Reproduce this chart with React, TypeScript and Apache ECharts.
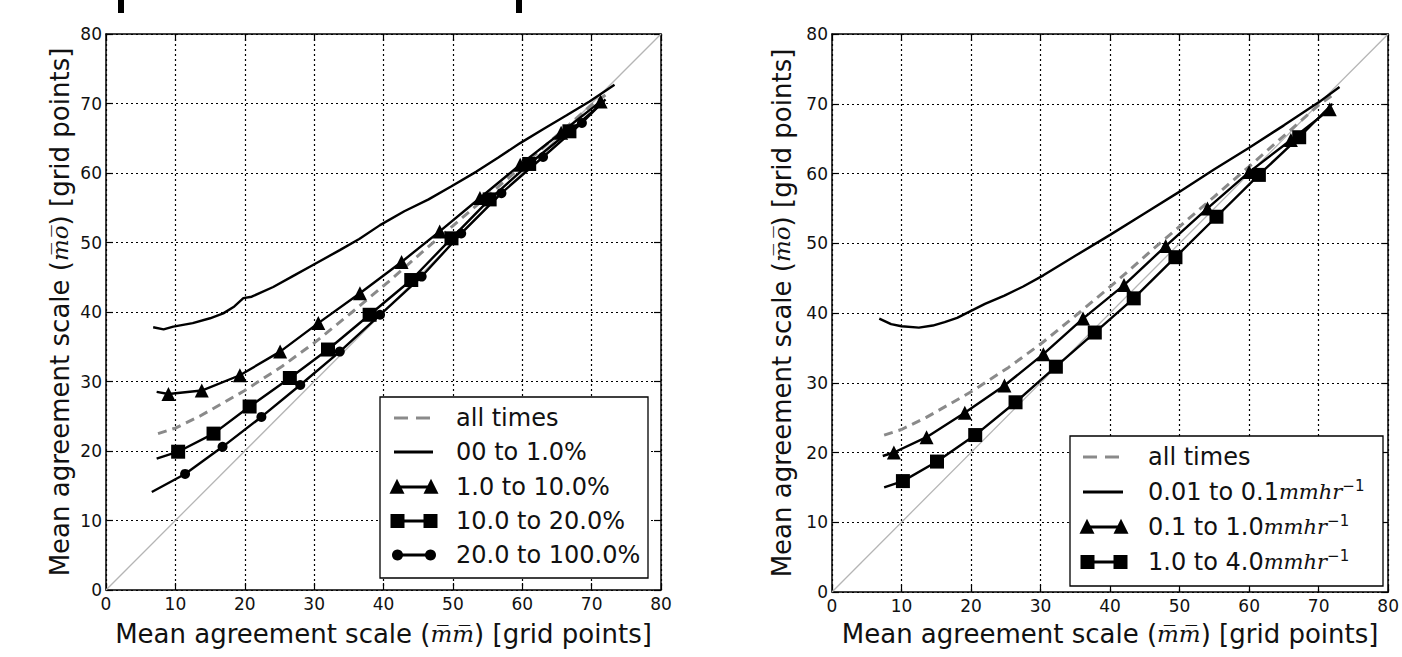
import { useEffect, useRef } from "react";
import * as echarts from "echarts";

type P = [number, number];

// ---------- data ----------
const xTickValues = [0, 10, 20, 30, 40, 50, 60, 70, 80];
const diagonal: P[] = [[0, 0], [80, 80]];

const allTimes: P[] = [
  [7.5, 22.5], [10, 23.3], [13.5, 25], [16.5, 26.7], [20, 28.7], [25.4, 32.2], [30.2, 35.7],
  [35.5, 40], [41, 44.6], [46, 49], [50, 52.4], [55, 56.7], [60, 61], [65, 65.4], [70, 69.8], [72.5, 71.6],
];

// left panel
const leftSolid: P[] = [
  [6.8, 37.8], [8.3, 37.5], [9.7, 37.9], [12.5, 38.4], [15.0, 39.1], [16.9, 39.8], [18.5, 40.8],
  [19.8, 42.0], [21, 42.2], [24.1, 43.6], [27, 45.2], [29.9, 46.8], [33.7, 48.9], [36.5, 50.5],
  [39.5, 52.5], [43, 54.5], [46.5, 56.2], [49.8, 58.1], [53.4, 60.2], [56.5, 62.2], [59.7, 64.3],
  [63, 66.3], [66.4, 68.3], [69.7, 70.3], [73.3, 72.7],
];
const leftTriLine: P[] = [[7.3, 28.5]];
const leftTriMarks: P[] = [
  [9.0, 28.2], [13.8, 28.7], [19.3, 30.9], [25.1, 34.3], [30.6, 38.4], [36.6, 42.7],
  [42.6, 47.2], [48.1, 51.6], [53.9, 56.4], [59.7, 61.2], [65.6, 65.8], [71.3, 70.3],
];
const leftSqLine: P[] = [[7.3, 18.9], [71.8, 70.3]];
const leftSqMarks: P[] = [
  [10.4, 19.9], [15.5, 22.5], [20.7, 26.4], [26.5, 30.5], [32.0, 34.6], [38.0, 39.6],
  [44.0, 44.6], [49.8, 50.6], [55.3, 56.2], [61.0, 61.3], [66.8, 66.0],
];
const leftCircLine: P[] = [[6.6, 14.1], [72, 70.6]];
const leftCircMarks: P[] = [
  [11.4, 16.7], [16.8, 20.6], [22.4, 24.9], [28.0, 29.5], [33.7, 34.3], [39.5, 39.6],
  [45.5, 45.1], [51.2, 51.3], [57.0, 57.1], [63.0, 62.3], [68.6, 67.2],
];

// right panel
const rightSolid: P[] = [
  [6.8, 39.2], [8.5, 38.4], [10.0, 38.1], [12.5, 37.9], [14.5, 38.2], [16.2, 38.7], [18, 39.3],
  [20.0, 40.3], [22, 41.3], [24.8, 42.5], [27.5, 43.8], [30.4, 45.4], [33, 47], [35, 48.2],
  [40, 51.2], [45, 54.3], [50, 57.4], [55, 60.6], [60, 63.7], [65, 66.9], [70, 70.2], [73, 72.4],
];
const rightTriLine: P[] = [[7.3, 19.5]];
const rightTriMarks: P[] = [
  [8.9, 20.0], [13.6, 22.2], [19.1, 25.7], [24.8, 29.6], [30.4, 34.1], [36.1, 39.2],
  [42, 44], [48, 49.6], [54, 55], [60, 60.2], [66, 64.8], [71.6, 69.2],
];
const rightSqLine: P[] = [[7.5, 15.0], [72, 70]];
const rightSqMarks: P[] = [
  [10.2, 15.9], [15.1, 18.7], [20.6, 22.5], [26.4, 27.2], [32.2, 32.3], [37.8, 37.2],
  [43.4, 42.1], [49.4, 48.0], [55.3, 53.8], [61.4, 59.8], [67.2, 65.2],
];

const leftLegend = ["all times", "00 to 1.0%", "1.0 to 10.0%", "10.0 to 20.0%", "20.0 to 100.0%"];
const rightLegendPrefix = ["all times", "0.01 to 0.1", "0.1 to 1.0", "1.0 to 4.0"];

// ---------- helpers ----------
const FONT = "DejaVu Sans";
const merge = (a: P[], b: P[]) => [...a, ...b].sort((p, q) => p[0] - q[0]);

const xAxisName =
  "{a|Mean agreement scale (}{b|m\u0305m\u0305}{a|) [grid points]}";
const yAxisName =
  "{a|Mean agreement scale (}{b|m\u0305o\u0305}{a|) [grid points]}";
const nameRich = {
  a: { fontFamily: FONT, fontSize: 26, color: "#111" },
  b: { fontFamily: "DejaVu Serif", fontStyle: "italic", fontSize: 23, color: "#111" },
};

function mkAxis(gi: number, pos: string, main: boolean, isX: boolean, gap: number) {
  return {
    type: "value",
    gridIndex: gi,
    position: pos,
    min: 0,
    max: 80,
    interval: 10,
    name: main ? (isX ? xAxisName : yAxisName) : undefined,
    nameLocation: "middle",
    nameGap: gap,
    nameTextStyle: { rich: nameRich },
    axisLine: { show: true, onZero: false, lineStyle: { color: "#000", width: 1.5 } },
    axisTick: { show: true, inside: true, length: 7, lineStyle: { color: "#000", width: 1.2 } },
    axisLabel: {
      show: main,
      color: "#111",
      fontSize: 17,
      fontFamily: FONT,
      margin: isX ? 5 : 4,
    },
    splitLine: { show: main, lineStyle: { color: "#000", type: [2, 3], width: 1.2 } },
  };
}

function lineS(data: P[], xi: number, yi: number) {
  return {
    type: "line",
    data,
    xAxisIndex: xi,
    yAxisIndex: yi,
    symbol: "none",
    lineStyle: { color: "#000", width: 2.4 },
    z: 3,
    silent: true,
  };
}
function markS(data: P[], xi: number, yi: number, symbol: string, size: number) {
  return {
    type: "scatter",
    data,
    xAxisIndex: xi,
    yAxisIndex: yi,
    symbol,
    symbolSize: size,
    itemStyle: { color: "#000", opacity: 1 },
    z: 4,
    silent: true,
  };
}
function diagS(xi: number, yi: number) {
  return {
    type: "line",
    data: diagonal,
    xAxisIndex: xi,
    yAxisIndex: yi,
    symbol: "none",
    lineStyle: { color: "#b5b5b5", width: 1.3 },
    z: 1,
    silent: true,
  };
}
function dashS(xi: number, yi: number) {
  return {
    type: "line",
    data: allTimes,
    xAxisIndex: xi,
    yAxisIndex: yi,
    symbol: "none",
    lineStyle: { color: "#8a8a8a", width: 3, type: [9, 6] },
    z: 2,
    silent: true,
  };
}

// legend sample glyphs
function tri(cx: number, cy: number, s: number) {
  return {
    type: "polygon",
    shape: { points: [[cx, cy - s * 0.55], [cx - s / 2, cy + s * 0.45], [cx + s / 2, cy + s * 0.45]] },
    style: { fill: "#000" },
    z: 101,
  };
}
function sq(cx: number, cy: number, s: number) {
  return { type: "rect", shape: { x: cx - s / 2, y: cy - s / 2, width: s, height: s }, style: { fill: "#000" }, z: 101 };
}
function circ(cx: number, cy: number, r: number) {
  return { type: "circle", shape: { cx, cy, r }, style: { fill: "#000" }, z: 101 };
}
function seg(x1: number, x2: number, y: number, color = "#000", w = 3) {
  return { type: "line", shape: { x1, y1: y, x2, y2: y }, style: { stroke: color, lineWidth: w }, z: 101 };
}
function txt(x: number, y: number, text: string, rich?: any) {
  return {
    type: "text",
    x,
    y,
    style: {
      text,
      fill: "#111",
      fontFamily: FONT,
      fontSize: 24,
      verticalAlign: "middle",
      align: "left",
      rich,
    },
    z: 102,
  };
}

function buildLegendGraphics() {
  const g: any[] = [];
  // left legend
  g.push({
    type: "rect",
    shape: { x: 380, y: 397, width: 268, height: 181 },
    style: { fill: "#fff", stroke: "#000", lineWidth: 1.3 },
    z: 100,
  });
  const ly = [418, 452, 487, 521, 555];
  g.push(seg(394, 408, ly[0], "#8a8a8a"), seg(416, 430, ly[0], "#8a8a8a"));
  g.push(seg(394, 433, ly[1]));
  g.push(seg(397, 431, ly[2]), tri(397, ly[2], 15), tri(431, ly[2], 15));
  g.push(seg(397, 431, ly[3]), sq(397.5, ly[3], 14), sq(430.5, ly[3], 14));
  g.push(seg(397, 431, ly[4]), circ(397.5, ly[4], 5.5), circ(430.5, ly[4], 5.5));
  leftLegend.forEach((t, i) => g.push(txt(456, ly[i], t)));

  // right legend
  g.push({
    type: "rect",
    shape: { x: 1070, y: 436, width: 313, height: 150 },
    style: { fill: "#fff", stroke: "#000", lineWidth: 1.3 },
    z: 100,
  });
  const ry = [457, 492, 527, 562];
  g.push(seg(1083, 1097, ry[0], "#8a8a8a"), seg(1105, 1119, ry[0], "#8a8a8a"));
  g.push(seg(1083, 1123, ry[1]));
  g.push(seg(1087, 1121, ry[2]), tri(1087, ry[2], 15), tri(1121, ry[2], 15));
  g.push(seg(1087, 1121, ry[3]), sq(1087.5, ry[3], 14), sq(1120.5, ry[3], 14));
  const rich = {
    n: { fontFamily: FONT, fontSize: 24, color: "#111" },
    m: { fontFamily: "DejaVu Serif", fontStyle: "italic", fontSize: 21, color: "#111" },
    s: { fontFamily: "DejaVu Sans", fontSize: 15, color: "#111", verticalAlign: "top", padding: [0, 0, 12, 0] },
  };
  rightLegendPrefix.forEach((t, i) => {
    if (i === 0) g.push(txt(1148, ry[i], t));
    else g.push(txt(1148, ry[i], `{n|${t}}{m|mmhr}{s|\u22121}`, rich));
  });

  // cut-off glyph fragments at the very top of the image
  g.push({ type: "rect", shape: { x: 118, y: 0, width: 6, height: 13 }, style: { fill: "#000" } });
  g.push({ type: "rect", shape: { x: 516, y: 0, width: 6, height: 13 }, style: { fill: "#000" } });
  return g;
}

export default function App() {
  const ref = useRef<HTMLDivElement>(null);
  useEffect(() => {
    if (!ref.current) return;
    const chart = echarts.init(ref.current, null, { renderer: "svg" });
    const option: any = {
      animation: false,
      backgroundColor: "#fff",
      textStyle: { fontFamily: FONT },
      grid: [
        { left: 106, top: 34, width: 555, height: 556, show: false },
        { left: 832, top: 34, width: 564, height: 558, show: false },
      ],
      xAxis: [
        mkAxis(0, "bottom", true, true, 31),
        mkAxis(0, "top", false, true, 0),
        mkAxis(1, "bottom", true, true, 29),
        mkAxis(1, "top", false, true, 0),
      ],
      yAxis: [
        mkAxis(0, "left", true, false, 33),
        mkAxis(0, "right", false, false, 0),
        mkAxis(1, "left", true, false, 37),
        mkAxis(1, "right", false, false, 0),
      ],
      series: [
        diagS(0, 0),
        dashS(0, 0),
        lineS(leftSolid, 0, 0),
        lineS(merge(leftTriLine, leftTriMarks), 0, 0),
        markS(leftTriMarks, 0, 0, "triangle", 14),
        lineS(merge(leftSqLine, leftSqMarks), 0, 0),
        markS(leftSqMarks, 0, 0, "rect", 14),
        lineS(merge(leftCircLine, leftCircMarks), 0, 0),
        markS(leftCircMarks, 0, 0, "circle", 10),

        diagS(2, 2),
        dashS(2, 2),
        lineS(rightSolid, 2, 2),
        lineS(merge(rightTriLine, rightTriMarks), 2, 2),
        markS(rightTriMarks, 2, 2, "triangle", 14),
        lineS(merge(rightSqLine, rightSqMarks), 2, 2),
        markS(rightSqMarks, 2, 2, "rect", 14),
      ],
      graphic: buildLegendGraphics(),
    };
    chart.setOption(option);
    return () => chart.dispose();
  }, []);
  return (
    <div
      ref={ref}
      style={{ position: "fixed", left: 0, top: 0, width: 1402, height: 657, background: "#fff" }}
    />
  );
}

void xTickValues;
